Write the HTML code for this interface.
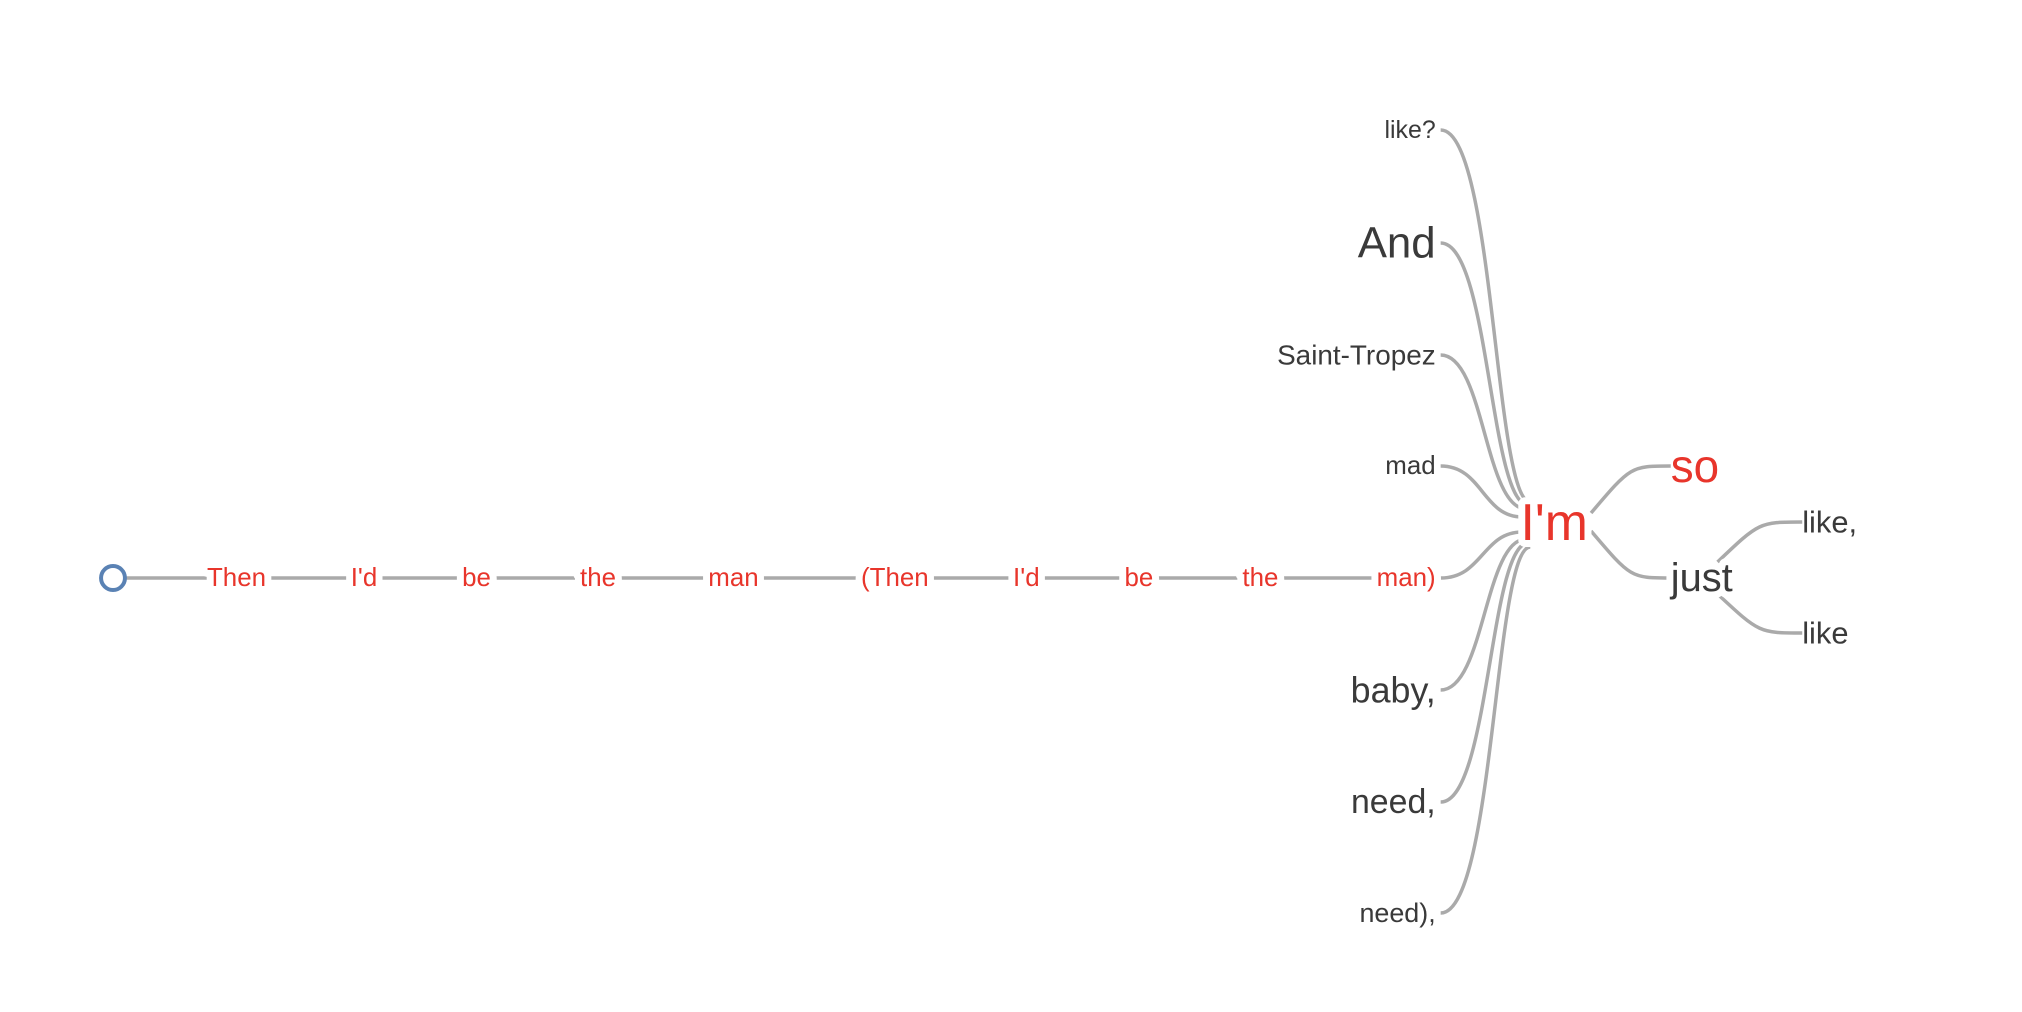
<!DOCTYPE html>
<html><head><style>
html,body{margin:0;padding:0;background:#fff;}
svg{display:block;}
text{font-family:"Liberation Sans",sans-serif;dominant-baseline:central;}
.r{fill:#e8352b;}
.d{fill:#3a3a3a;}
.w{paint-order:stroke;stroke:#fff;stroke-width:14px;stroke-linejoin:round;}
</style></head><body>
<svg width="2022" height="1012" viewBox="0 0 2022 1012" xmlns="http://www.w3.org/2000/svg">
<g transform="translate(113,-3) scale(0.996,1) translate(-113,0)">
<g fill="none" stroke="#aaa" stroke-width="3.5">
<line x1="126" y1="581" x2="1420" y2="581"/>
<path d="M1446,133 C1500,133 1500,505 1536,505"/>
<path d="M1446,246 C1495,246 1495,508 1534,508"/>
<path d="M1446,358 C1490,358 1490,512 1532,512"/>
<path d="M1446,469 C1488,469 1488,520 1528,520"/>
<path d="M1446,581 C1488,581 1488,535 1528,535"/>
<path d="M1446,693 C1490,693 1490,542 1532,542"/>
<path d="M1446,805 C1495,805 1495,546 1534,546"/>
<path d="M1446,916 C1500,916 1500,550 1536,550"/>
<path d="M1597,516 C1637,469 1637,469 1677,469"/>
<path d="M1597,534 C1637,581 1637,581 1677,581"/>
<path d="M1724,565 C1766,525 1766,525 1809,525"/>
<path d="M1724,597 C1766,636 1766,636 1809,636"/>
</g>
<circle cx="113" cy="581" r="12" fill="#fff" stroke="#5a82b4" stroke-width="4"/>
<g font-size="26" text-anchor="middle">
<text class="r w" x="237" y="581">Then</text>
<text class="r w" x="365" y="581">I'd</text>
<text class="r w" x="478" y="581">be</text>
<text class="r w" x="600" y="581">the</text>
<text class="r w" x="736" y="581">man</text>
<text class="r w" x="898" y="581">(Then</text>
<text class="r w" x="1030" y="581">I'd</text>
<text class="r w" x="1143" y="581">be</text>
<text class="r w" x="1265" y="581">the</text>
</g>
<g text-anchor="end">
<text class="r w" x="1441" y="581" font-size="26">man)</text>
<text class="d" x="1441" y="133" font-size="25">like?</text>
<text class="d" x="1441" y="246" font-size="44">And</text>
<text class="d" x="1441" y="358" font-size="28">Saint-Tropez</text>
<text class="d" x="1441" y="469" font-size="26">mad</text>
<text class="d" x="1441" y="693" font-size="36">baby,</text>
<text class="d" x="1441" y="805" font-size="34">need,</text>
<text class="d" x="1441" y="916" font-size="27">need),</text>
</g>
<text class="r w" x="1560" y="525" font-size="52" text-anchor="middle">I'm</text>
<text class="r" x="1677" y="469" font-size="46">so</text>
<text class="d w" x="1677" y="581" font-size="40">just</text>
<text class="d" x="1809" y="525" font-size="31">like,</text>
<text class="d" x="1809" y="636" font-size="31">like</text>
</g>
</svg>
</body></html>
